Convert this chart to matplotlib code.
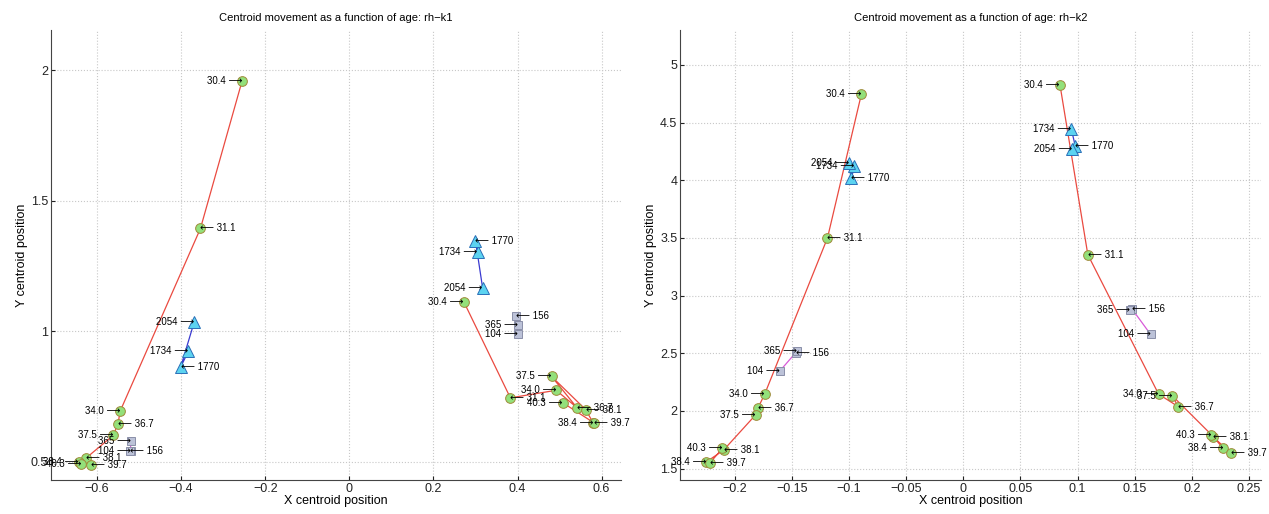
import numpy as np
import matplotlib.pyplot as plt

plt.rcParams['font.family'] = ['Liberation Sans', 'DejaVu Sans']

# ages per group
age_red = ['30.4', '31.1', '34.0', '36.7', '37.5', '38.1', '38.4', '39.7', '40.3']
age_blue = ['1734', '1770', '2054']
age_mag = ['104', '156', '365']

# rh-k1, two clusters each
k1_red_a_x = [-0.255, -0.354, -0.545, -0.550, -0.561, -0.627, -0.644, -0.615, -0.637]
k1_red_a_y = [1.959, 1.394, 0.694, 0.646, 0.602, 0.513, 0.500, 0.487, 0.491]
k1_red_b_x = [0.272, 0.383, 0.492, 0.541, 0.481, 0.562, 0.580, 0.582, 0.507]
k1_red_b_y = [1.114, 0.745, 0.774, 0.708, 0.827, 0.700, 0.649, 0.649, 0.727]
k1_blue_a_x = [-0.383, -0.401, -0.369]
k1_blue_a_y = [0.923, 0.863, 1.035]
k1_blue_b_x = [0.305, 0.300, 0.317]
k1_blue_b_y = [1.303, 1.347, 1.166]
k1_mag_a_x = [-0.520, -0.521, -0.519]
k1_mag_a_y = [0.542, 0.542, 0.580]
k1_mag_b_x = [0.401, 0.397, 0.400]
k1_mag_b_y = [0.990, 1.057, 1.026]

# rh-k2
k2_red_a_x = [-0.0893, -0.119, -0.174, -0.180, -0.182, -0.210, -0.225, -0.222, -0.211]
k2_red_a_y = [4.747, 3.500, 2.145, 2.023, 1.965, 1.660, 1.558, 1.549, 1.674]
k2_red_b_x = [0.0846, 0.109, 0.171, 0.188, 0.183, 0.219, 0.2275, 0.2346, 0.217]
k2_red_b_y = [4.828, 3.355, 2.145, 2.038, 2.131, 1.776, 1.674, 1.631, 1.790]
k2_blue_a_x = [-0.0954, -0.098, -0.100]
k2_blue_a_y = [4.125, 4.020, 4.154]
k2_blue_b_x = [0.0946, 0.098, 0.0954]
k2_blue_b_y = [4.442, 4.297, 4.270]
k2_mag_a_x = [-0.161, -0.147, -0.146]
k2_mag_a_y = [2.343, 2.503, 2.517]
k2_mag_b_x = [0.164, 0.148, 0.146]
k2_mag_b_y = [2.663, 2.880, 2.872]

panels = [
    dict(title='Centroid movement as a function of age: rh\u2212k1',
         red=[(k1_red_a_x, k1_red_a_y), (k1_red_b_x, k1_red_b_y)],
         blue=[(k1_blue_a_x, k1_blue_a_y), (k1_blue_b_x, k1_blue_b_y)],
         mag=[(k1_mag_a_x, k1_mag_a_y), (k1_mag_b_x, k1_mag_b_y)],
         xlim=(-0.71, 0.645), ylim=(0.43, 2.155),
         xticks=[-0.6, -0.4, -0.2, 0, 0.2, 0.4, 0.6],
         yticks=[0.5, 1, 1.5, 2]),
    dict(title='Centroid movement as a function of age: rh\u2212k2',
         red=[(k2_red_a_x, k2_red_a_y), (k2_red_b_x, k2_red_b_y)],
         blue=[(k2_blue_a_x, k2_blue_a_y), (k2_blue_b_x, k2_blue_b_y)],
         mag=[(k2_mag_a_x, k2_mag_a_y), (k2_mag_b_x, k2_mag_b_y)],
         xlim=(-0.248, 0.261), ylim=(1.40, 5.305),
         xticks=[-0.2, -0.15, -0.1, -0.05, 0, 0.05, 0.1, 0.15, 0.2, 0.25],
         yticks=[1.5, 2, 2.5, 3, 3.5, 4, 4.5, 5]),
]

def tick_fmt(v):
    s = ('%.2f' % v).rstrip('0').rstrip('.')
    return '0' if s in ('-0', '0') else s.replace('-', '\u2212')

def draw_group(ax, x, y, labels, lc, fc, ec, marker, ms):
    ax.plot(x, y, '-', color=lc, lw=0.9, zorder=2)
    ax.plot(x, y, marker, ls='none', mfc=fc, mec=ec, ms=ms, mew=0.7, zorder=3)
    for i, (xi, yi, lab) in enumerate(zip(x, y, labels)):
        if i % 2 == 0:
            ax.text(xi, yi, lab + ' \u27f6', ha='right', va='center', fontsize=7, zorder=4)
        else:
            ax.text(xi, yi, '\u27f5 ' + lab, ha='left', va='center', fontsize=7, zorder=4)

fig = plt.figure(figsize=(12.69, 5.14), dpi=100)
boxes = [[0.040, 0.066, 0.449, 0.876], [0.536, 0.066, 0.458, 0.876]]

for p, box in zip(panels, boxes):
    ax = fig.add_axes(box)
    for x, y in p['red']:
        draw_group(ax, x, y, age_red, '#ea4a40', '#93e07a', '#a08a3a', 'o', 7)
    for x, y in p['blue']:
        draw_group(ax, x, y, age_blue, '#3a3ad0', '#5cd3f0', '#2a6fb8', '^', 8)
    for x, y in p['mag']:
        draw_group(ax, x, y, age_mag, '#d85ad8', '#bcc2d8', '#8a8fa8', 's', 6)
    ax.set_xlim(p['xlim'])
    ax.set_ylim(p['ylim'])
    ax.set_xticks(p['xticks'])
    ax.set_yticks(p['yticks'])
    ax.set_xticklabels([tick_fmt(v) for v in p['xticks']])
    ax.set_yticklabels([tick_fmt(v) for v in p['yticks']])
    ax.grid(True, ls=':', color='#c8c8c8', lw=0.8)
    ax.set_axisbelow(True)
    for s in ['top', 'right']:
        ax.spines[s].set_visible(False)
    for s in ['left', 'bottom']:
        ax.spines[s].set_color('#444444')
        ax.spines[s].set_linewidth(0.8)
    ax.tick_params(direction='in', length=3, labelsize=9, colors='#222222', pad=2)
    ax.set_title(p['title'], fontsize=8, pad=6)
    ax.set_xlabel('X centroid position', fontsize=9, labelpad=0)
    ax.set_ylabel('Y centroid position', fontsize=9, labelpad=2)

fig.savefig('out.png', dpi=100)
